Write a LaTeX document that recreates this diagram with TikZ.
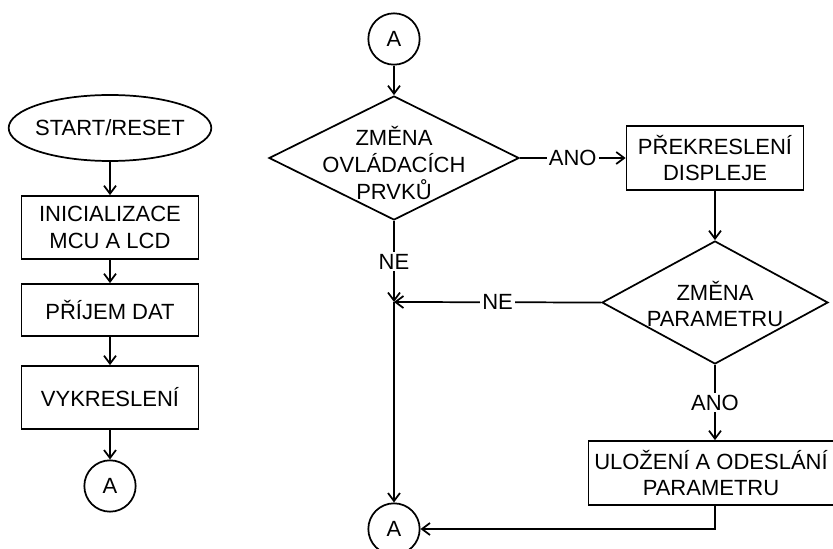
\documentclass[tikz,border=0pt]{standalone}
\usepackage{fontspec}
\setmainfont{Liberation Sans}
\usepackage{tikz}
\usetikzlibrary{shapes.geometric}
\usetikzlibrary{arrows.meta}

\begin{document}
\begin{tikzpicture}
    [
    x=0.75pt, y=-0.75pt,
    every node/.style={font=\fontsize{16.5}{20}\selectfont},
    line/.style={line width=1.3pt},
    terminal/.style={ellipse,draw,line width=1.3pt,inner xsep=-3.5pt,inner ysep=0pt,minimum width=152pt,minimum height=49.5pt},
    process/.style={rectangle,draw,line width=1.3pt,align=center,inner sep=2pt,minimum width=132.75pt},
    decision/.style={diamond,draw,line width=1.3pt,inner sep=0pt},
    connector/.style={circle,draw,line width=1.3pt,inner sep=0pt,minimum size=38.5pt},
    txt/.style={align=center,inner sep=0pt},
    lbl/.style={fill=white,inner sep=1.5pt},
    >={Straight Barb[length=6pt,width=9pt]},
    ]
    \useasboundingbox (0,0) rectangle (833,549);

    % left column
    \node (start) at (110,128) [terminal] {START/RESET};
    \node (init) at (110,227.5) [process, minimum height=47.25pt] {INICIALIZACE\\MCU A LCD};
    \node (recv) at (110,310) [process, minimum height=39pt] {PŘÍJEM DAT};
    \node (draw) at (110,397.5) [process, minimum height=47.25pt] {VYKRESLENÍ};
    \node (a1) at (110,486) [connector] {A};
    \draw [line,->] (start) to (init);
    \draw [line,->] (init) to (recv);
    \draw [line,->] (recv) to (draw);
    \draw [line,->] (draw) to (a1);

    % right part
    \node (a2) at (394,39) [connector] {A};
    \node (ctrl) at (394,158) [decision, minimum width=187.5pt, minimum height=93pt] {};
    \node (ctrltxt) at (394,163) [txt] {ZMĚNA\\OVLÁDACÍCH\\PRVKŮ};
    \node (redraw) at (715,158) [process, minimum height=48pt] {PŘEKRESLENÍ\\DISPLEJE};
    \node (param) at (715,302.5) [decision, minimum width=169.5pt, minimum height=92.25pt] {};
    \node (paramtxt) at (715,304) [txt] {ZMĚNA\\PARAMETRU};
    \node (save) at (711,473) [process, minimum width=183.75pt, minimum height=48pt] {ULOŽENÍ A ODESLÁNÍ\\PARAMETRU};
    \node (a3) at (394,529) [connector] {A};
    \coordinate (join) at (394,302);

    \draw [line,->] (a2) to (ctrl);
    \draw [line,->] (ctrl.east) to node [lbl] {ANO} (redraw.west);
    \draw [line,->] (redraw) to (param);
    \draw [line,->] (ctrl.south) to node [lbl] {NE} (join);
    \draw [line,->] (param.west) to node [lbl] {NE} (join);
    \draw [line,->] (join) to (a3);
    \draw [line,->] (param.south) to node [lbl] {ANO} (param.south |- save.north);
    \draw [line,->] (param.south |- save.south) |- (a3.east);
\end{tikzpicture}
\end{document}
